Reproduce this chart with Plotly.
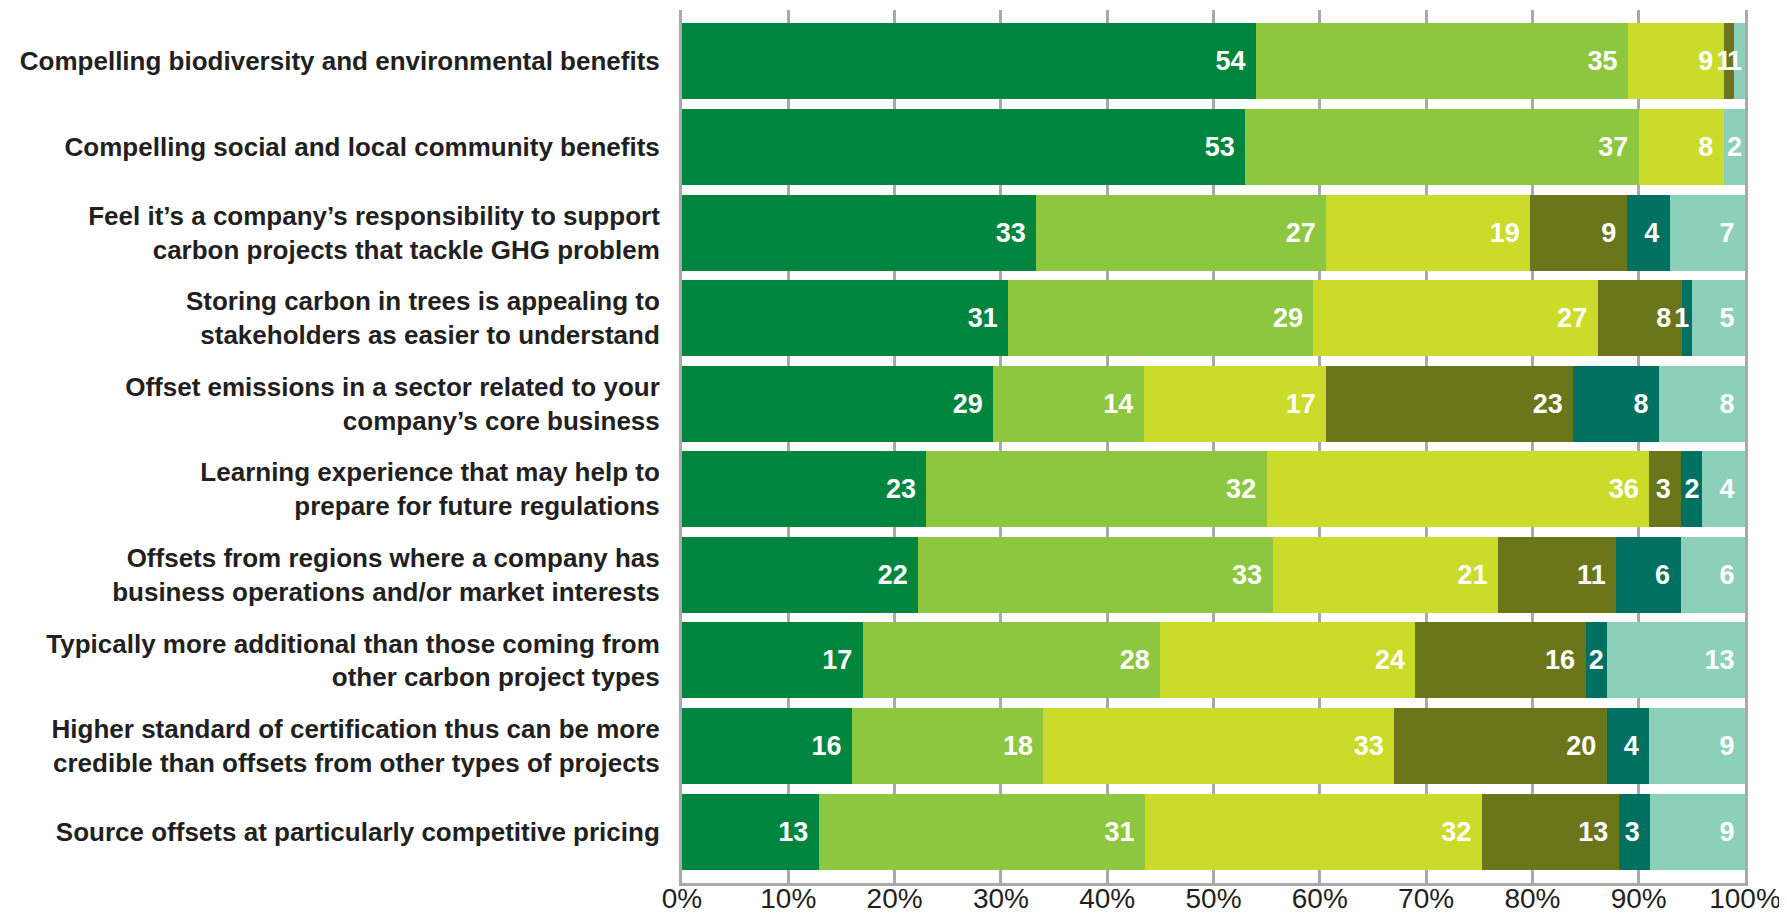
import plotly.graph_objects as go

categories = [
    "Compelling biodiversity and environmental benefits",
    "Compelling social and local community benefits",
    "Feel it’s a company’s responsibility to support<br>carbon projects that tackle GHG problem",
    "Storing carbon in trees is appealing to<br>stakeholders as easier to understand",
    "Offset emissions in a sector related to your<br>company’s core business",
    "Learning experience that may help to<br>prepare for future regulations",
    "Offsets from regions where a company has<br>business operations and/or market interests",
    "Typically more additional than those coming from<br>other carbon project types",
    "Higher standard of certification thus can be more<br>credible than offsets from other types of projects",
    "Source offsets at particularly competitive pricing",
]

series_names = ["Level 1", "Level 2", "Level 3", "Level 4", "Level 5", "Level 6"]
level1 = [54, 53, 33, 31, 29, 23, 22, 17, 16, 13]
level2 = [35, 37, 27, 29, 14, 32, 33, 28, 18, 31]
level3 = [9, 8, 19, 27, 17, 36, 21, 24, 33, 32]
level4 = [1, 0, 9, 8, 23, 3, 11, 16, 20, 13]
level5 = [0, 0, 4, 1, 8, 2, 6, 2, 4, 3]
level6 = [1, 2, 7, 5, 8, 4, 6, 13, 9, 9]
series_values = [level1, level2, level3, level4, level5, level6]

colors = ["#00853F", "#8DC63F", "#CBDB2A", "#6B7519", "#007060", "#8DD0BA"]
tick_vals = [0, 10, 20, 30, 40, 50, 60, 70, 80, 90, 100]
tick_labels = ["0%", "10%", "20%", "30%", "40%", "50%", "60%", "70%", "80%", "90%", "100%"]


def label(v):
    if v <= 0:
        return ""
    if v < 3:
        return str(v)
    return str(v) + "\u00a0"


fig = go.Figure()
for name, vals, col in zip(series_names, series_values, colors):
    fig.add_trace(go.Bar(
        y=categories,
        x=vals,
        name=name,
        orientation="h",
        marker=dict(color=col, line=dict(width=0)),
        text=[label(v) for v in vals],
        texttemplate="%{text}",
        textposition="inside",
        insidetextanchor="end",
        textangle=0,
        insidetextfont=dict(family="Liberation Sans", size=27, color="white", weight="bold"),
        cliponaxis=False,
    ))

# page body adds an 8px margin, so the figure is 8px smaller and margins compensate
fig.update_layout(
    barmode="stack",
    barnorm="percent",
    bargap=0.112,
    width=1779,
    height=906,
    margin=dict(l=674, r=42, t=2, b=31),
    paper_bgcolor="white",
    plot_bgcolor="white",
    showlegend=False,
    uniformtext=dict(minsize=27, mode="show"),
    font=dict(family="Liberation Sans", color="#231F20"),
)
fig.update_xaxes(
    range=[0, 100.0005],
    tickvals=tick_vals,
    ticktext=tick_labels,
    showgrid=True,
    gridcolor="#A9A9AB",
    gridwidth=2.5,
    showline=True,
    linecolor="#A9A9AB",
    linewidth=3,
    zeroline=False,
    ticks="",
    ticklen=0,
    tickfont=dict(family="Liberation Sans", size=28, color="#231F20"),
    ticklabelstandoff=-12,
    automargin=False,
    fixedrange=True,
)
fig.update_yaxes(
    categoryorder="array",
    categoryarray=categories,
    range=[9.6, -0.6],
    showgrid=False,
    showline=True,
    mirror=True,
    linecolor="#A9A9AB",
    linewidth=3,
    ticks="",
    tickfont=dict(family="Liberation Sans", size=26, color="#231F20", weight="bold"),
    ticklabelstandoff=14,
    automargin=False,
    fixedrange=True,
)

fig.write_html("out.html")
